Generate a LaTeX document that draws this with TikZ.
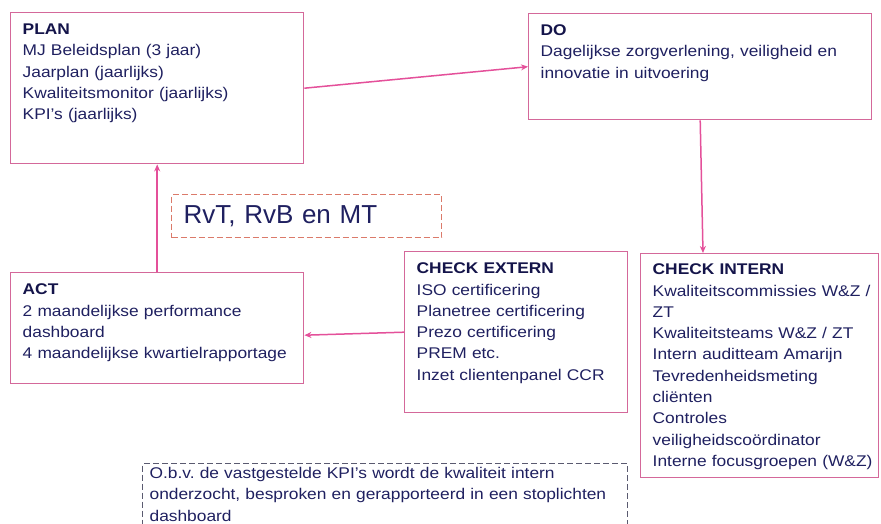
\documentclass[tikz,border=0pt]{standalone}
\usepackage{fontspec}
\setmainfont{Liberation Sans}
\newfontfamily\bodyfont[FakeStretch=1.12]{Liberation Sans}
\usetikzlibrary{arrows.meta}
\definecolor{boxpink}{HTML}{D4689A}
\definecolor{arrowpink}{HTML}{E4509A}
\definecolor{navy}{HTML}{1F2060}
\definecolor{darknavy}{HTML}{14144A}
\definecolor{salmon}{HTML}{DB7A6A}
\definecolor{dashgrey}{HTML}{5A5A70}
\newcommand{\kop}[1]{{\bfseries\color{darknavy}#1}}
\newcommand{\langeregel}[1]{\makebox[\linewidth][l]{#1}}
\frenchspacing
\begin{document}
\begin{tikzpicture}[x=1pt, y=-1pt,
    pdca/.style={draw=boxpink, line width=1.4pt, fill=white, anchor=north west, align=left,
        text=navy, font=\bodyfont\fontsize{15.5}{21.3}\selectfont,
        inner xsep=12pt, inner ysep=11pt, text height=11pt},
    streep/.style={dash pattern=on 6pt off 3pt, line width=1.2pt},
    flow/.style={arrowpink, line width=1.5pt, -{Stealth[length=7pt, width=6pt]}}]
    \useasboundingbox (0,0) rectangle (881,524);
    \draw (10, 12) node[pdca, text width=269pt, text depth=118pt](plan){\kop{PLAN}\\
           MJ Beleidsplan (3 jaar)\\ Jaarplan (jaarlijks)\\ Kwaliteitsmonitor (jaarlijks)\\ KPI’s (jaarlijks)}
          (528, 13) node[pdca, text width=319pt, text depth=73pt](do){\kop{DO}\\
           Dagelijkse zorgverlening, veiligheid en\\ innovatie in uitvoering}
          (10, 272) node[pdca, text width=269pt, text depth=78pt](act){\kop{ACT}\\
           2 maandelijkse performance\\ dashboard\\ 4 maandelijkse kwartielrapportage}
          (404, 251) node[pdca, text width=199pt, text depth=128pt](cex){\kop{CHECK EXTERN}\\
           ISO certificering\\ Planetree certificering\\ Prezo certificering\\ PREM etc.\\ Inzet clientenpanel CCR}
          (640, 253) node[pdca, text width=214pt, inner ysep=10pt, text depth=193pt](cin){\kop{CHECK INTERN}\\
           \langeregel{Kwaliteitscommissies W\&Z /}\\ ZT\\ Kwaliteitsteams W\&Z / ZT\\ Intern auditteam Amarijn\\
           Tevredenheidsmeting\\ cliënten\\ Controles\\ veiligheidscoördinator\\ \langeregel{Interne focusgroepen (W\&Z)}};

    \draw (171, 194) node[draw=salmon, streep, anchor=north west, align=left, text=navy,
           font=\fontsize{26}{30}\selectfont, inner xsep=12pt, inner ysep=0pt,
           text width=246pt, minimum height=43pt](team){RvT, RvB en MT};

    \draw (142, 463) node[draw=dashgrey, streep, anchor=north west, align=left, text=navy,
           font=\bodyfont\fontsize{15.5}{21.3}\selectfont, inner xsep=7pt, inner ysep=4pt,
           text width=471pt, text height=11pt, text depth=80pt](kpi){O.b.v. de vastgestelde KPI’s wordt de kwaliteit intern\\
           onderzocht, besproken en gerapporteerd in een stoplichten\\ dashboard};

    \draw[flow] (plan.east) -- (do.west);
    \draw[flow] (do.south) -- ([xshift=63pt]cin.north west);
    \draw[flow] (cex.west) -- ([yshift=-7pt]act.east);
    \draw[flow] (act.north) -- (plan.south);
\end{tikzpicture}
\end{document}
